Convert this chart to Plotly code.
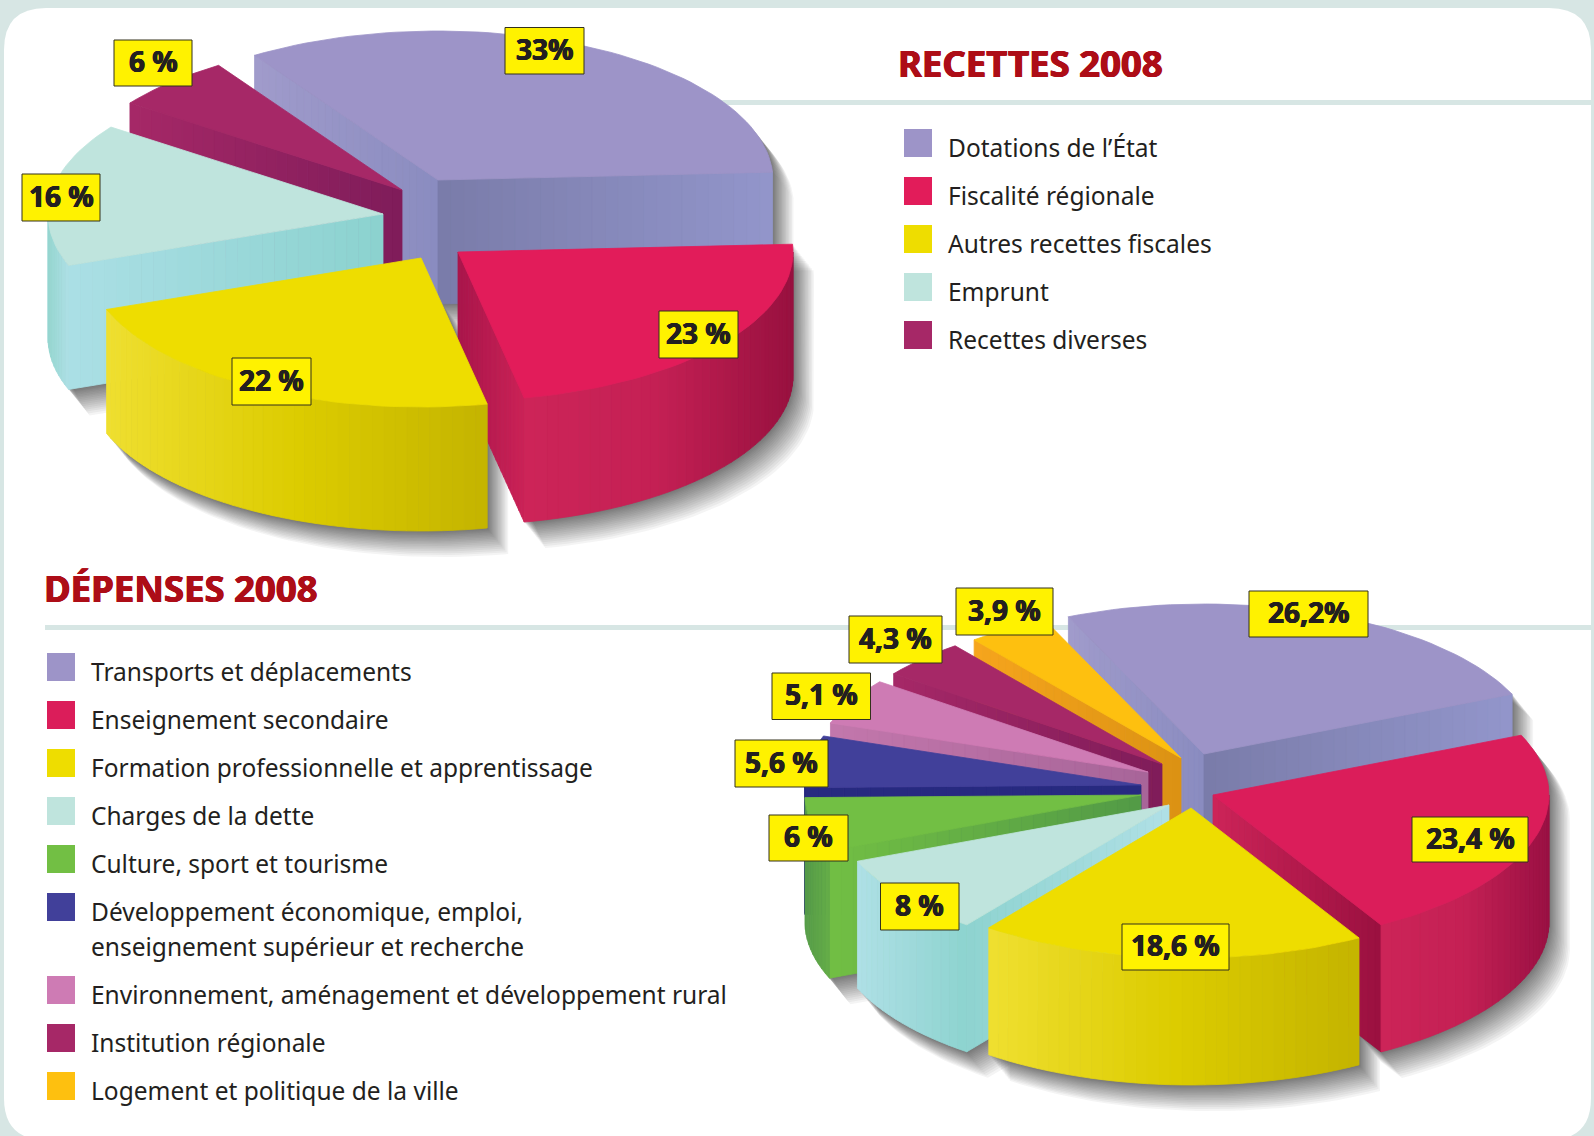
import math
import plotly.graph_objects as go

# ---------- data ----------
recettes_names = ["Dotations de l’État", "Fiscalité régionale", "Autres recettes fiscales", "Emprunt", "Recettes diverses"]
recettes_values = [33, 23, 22, 16, 6]
recettes_texts = ["33%", "23 %", "22 %", "16 %", "6 %"]

depenses_names = ["Transports et déplacements", "Enseignement secondaire",
                  "Formation professionnelle et apprentissage", "Charges de la dette",
                  "Culture, sport et tourisme",
                  "Développement économique, emploi,<br>enseignement supérieur et recherche",
                  "Environnement, aménagement et développement rural",
                  "Institution régionale", "Logement et politique de la ville"]
depenses_values = [26.2, 23.4, 18.6, 8, 6, 5.6, 5.1, 4.3, 3.9]
depenses_texts = ["26,2%", "23,4 %", "18,6 %", "8 %", "6 %", "5,6 %", "5,1 %", "4,3 %", "3,9 %"]

# ---------- styles (top colour, cut-wall gradient at the end / start, outer-wall gradient) ----------
PURPLE = dict(top="#9d94c8", end=["#7a7ba9", "#9296cb"], start=["#a09bcb", "#8a8cc0"], outer=["#7a7ba9", "#9296cb"])
RED_A = dict(top="#e21c5a", end=["#a9154a", "#cb2257"], start=["#a9154a", "#cb2257"], outer=["#cd2458", "#c42054", "#98103f"])
RED_B = dict(top="#db1d5a", end=["#cd2458", "#9a1040"], start=["#cd2458", "#9a1040"], outer=["#cd2458", "#c42054", "#9a1043"])
YELLOW = dict(top="#eedd00", end=["#efdf30", "#c4b400"], start=["#efdf30", "#c4b400"], outer=["#efdf30", "#dccc00", "#c4b400"])
TEAL_A = dict(top="#bfe4dd", end=["#abdfe5", "#8bd2cf"], start=["#abdfe5", "#8bd2cf"], outer=["#96d6d0", "#aee0e6"])
TEAL_B = dict(top="#bfe4dd", end=["#abdfe5", "#8bd2cf"], start=["#8ed3d0", "#b0e0e6"], outer=["#afe0e6", "#8dd3cf"])
GREEN = dict(top="#72bf44", end=["#72bf44", "#529a46"], start=["#72bf44", "#529a46"], outer=["#569c48", "#65ad48"])
BLUE = dict(top="#41409a", end=["#272a80", "#272a80"], start=["#272a80", "#272a80"], outer=["#272a80", "#272a80"])
PINK = dict(top="#ce7bb4", end=["#c377ac", "#a76599"], start=["#c377ac", "#a76599"], outer=["#c377ac", "#c377ac"])
MAGENTA = dict(top="#a62867", end=["#a62867", "#7f1c5a"], start=["#a62867", "#7f1c5a"], outer=["#a62867", "#a62867"])
ORANGE = dict(top="#fec00f", end=["#f6a51d", "#dc9213"], start=["#f6a51d", "#dc9213"], outer=["#f6a51d", "#f6a51d"])

recettes_styles = [PURPLE, RED_A, YELLOW, TEAL_A, MAGENTA]
depenses_styles = [PURPLE, RED_B, YELLOW, TEAL_B, GREEN, BLUE, PINK, MAGENTA, ORANGE]

# ---------- layout of the two pies ----------
recettes_layout = dict(start=122.7, rx=335, ry=149, depth=124,
                       nudge=[0.5, -0.9, 0.3, -1.7, 0, 0.5],
                       apex=[(438, 180), (458, 252), (421, 258), (383, 214), (402, 190)],
                       order=[0, 4, 3, 1, 2])
depenses_layout = dict(start=117, rx=336, ry=150, depth=127,
                       nudge=[-3.2, 0.82, 1.56, 1.52, -0.68, -0.08, 0, 0.44, 0.92, 0.76],
                       apex=[(1204, 754), (1213, 795), (1191, 808), (1169, 805), (1141, 795),
                             (1141, 785), (1148, 772), (1162, 764), (1181, 758)],
                       order=[0, 8, 7, 6, 5, 4, 3, 1, 2])
recettes_boxes = [(505, 584, 27.5, 74), (659, 738, 311, 358), (232, 311, 358, 405), (22, 100, 174, 221), (114, 192, 40, 86)]
depenses_boxes = [(1249, 1368, 591, 637), (1412, 1528, 817, 862), (1122, 1229, 924, 970), (880.5, 959, 883, 930),
                  (769, 848, 815, 861), (735, 828, 740, 787), (772, 870.5, 673, 719.5), (849, 942, 616, 663), (956, 1053, 588, 635)]

W, H = 1594, 1136
BG = "#d7e6e4"
LEG_FONT = "Noto Sans"
INK = "#231f20"
TITLE_RED = "#ad0d17"
LEGEND_TOPS_A = [129, 177, 225, 273, 321]
LEGEND_TOPS_B = [653, 701, 749, 797, 845, 893, 976, 1024, 1072]
HEAVY = "0.6px 0 0 {c}, -0.6px 0 0 {c}, 0 0.4px 0 {c}"


def mix(stops, t):
    t = min(1, max(0, t))
    f = t * (len(stops) - 1)
    i = min(int(f), len(stops) - 2)
    u = f - i
    a, b = stops[i], stops[i + 1]
    ca = [int(a[k:k + 2], 16) for k in (1, 3, 5)]
    cb = [int(b[k:k + 2], 16) for k in (1, 3, 5)]
    return "rgb(%d,%d,%d)" % tuple(round(x + (y - x) * u) for x, y in zip(ca, cb))


def poly(fig, pts, color, name=None):
    xs = [p[0] for p in pts] + [pts[0][0]]
    ys = [p[1] for p in pts] + [pts[0][1]]
    fig.add_trace(go.Scatter(x=xs, y=ys, mode="lines", fill="toself", fillcolor=color,
                             line=dict(color=color, width=0.8), hoverinfo="skip" if name is None else "name",
                             name=name or "", showlegend=False))


def hull(points):
    pts = sorted(set(points))
    def half(seq):
        out = []
        for p in seq:
            while len(out) >= 2 and (out[-1][0] - out[-2][0]) * (p[1] - out[-2][1]) - (out[-1][1] - out[-2][1]) * (p[0] - out[-2][0]) <= 0:
                out.pop()
            out.append(p)
        return out[:-1]
    return half(pts) + half(pts[::-1])


def draw_pie(fig, names, values, styles, layout):
    rx, ry, depth = layout["rx"], layout["ry"], layout["depth"]
    bounds = [layout["start"]]
    for v in values:
        bounds.append(bounds[-1] - v * 3.6)
    bounds = [b + n for b, n in zip(bounds, layout["nudge"])]

    def rim(cx, cy, a):
        r = math.radians(a)
        return (cx + rx * math.cos(r), cy - ry * math.sin(r))

    wedges = []
    for i, (cx, cy) in enumerate(layout["apex"]):
        a0, a1 = bounds[i], bounds[i + 1]
        n = max(4, int((a0 - a1) / 2))
        arc = [rim(cx, cy, a0 + (a1 - a0) * k / n) for k in range(n + 1)]
        wedges.append([(cx, cy)] + arc)

    # soft shadow towards the lower right: stacked translucent silhouettes
    layers = 18
    for s in range(layers, 0, -1):
        f = (s / layers) ** 1.35
        xs, ys = [], []
        for w in wedges:
            outline = hull([(round(x, 1), round(y, 1)) for x, y in w] + [(round(x, 1), round(y + depth, 1)) for x, y in w])
            for x, y in outline + outline[:1]:
                xs.append(x + 21 * f)
                ys.append(y + 26 * f)
            xs.append(None)
            ys.append(None)
        fig.add_trace(go.Scatter(x=xs, y=ys, mode="lines", fill="toself", fillcolor="rgba(35,35,35,0.05)",
                                 line=dict(width=0), hoverinfo="skip", showlegend=False))

    for i in layout["order"]:
        cx, cy = layout["apex"][i]
        a0, a1 = bounds[i], bounds[i + 1]
        st = styles[i]
        # straight cut walls
        for ang, key, visible in ((a0, "start", math.cos(math.radians(a0)) < 0),
                                  (a1, "end", math.cos(math.radians(a1)) > 0)):
            if not visible:
                continue
            ex, ey = rim(cx, cy, ang)
            strips = 26
            xmin, xmax = min(cx, ex), max(cx, ex)
            for k in range(strips):
                p = (cx + (ex - cx) * k / strips, cy + (ey - cy) * k / strips)
                q = (cx + (ex - cx) * (k + 1) / strips, cy + (ey - cy) * (k + 1) / strips)
                t = ((p[0] + q[0]) / 2 - xmin) / max(1, xmax - xmin)
                poly(fig, [p, q, (q[0], q[1] + depth), (p[0], p[1] + depth)], mix(st[key], t))
        # curved outer wall, front half only
        hi, lo = min(a0, 0), max(a1, -180)
        if hi > lo:
            n = max(3, math.ceil((hi - lo) / 2))
            angs = [hi + (lo - hi) * k / n for k in range(n + 1)]
            pts = [rim(cx, cy, a) for a in angs]
            xmin, xmax = min(p[0] for p in pts), max(p[0] for p in pts)
            for k in range(n):
                p, q = pts[k], pts[k + 1]
                t = ((p[0] + q[0]) / 2 - xmin) / max(1, xmax - xmin)
                poly(fig, [p, q, (q[0], q[1] + depth), (p[0], p[1] + depth)], mix(st["outer"], t))
        # top face
        poly(fig, wedges[i], st["top"], name="%s : %s" % (names[i].replace("<br>", " "), values[i]))


box_shapes = []


def add_boxes(fig, texts, boxes):
    for text, (x0, x1, y0, y1) in zip(texts, boxes):
        box_shapes.append(dict(type="rect", x0=x0, x1=x1, y0=y0, y1=y1, xref="x", yref="y", layer="above",
                               fillcolor="#fff200", line=dict(color="#33311c", width=1)))
        fig.add_annotation(x=(x0 + x1) / 2, y=(y0 + y1) / 2 - 2, xref="x", yref="y", text="<b>%s</b>" % text,
                           showarrow=False, xanchor="center", yanchor="middle",
                           font=dict(family="Noto Sans", size=28, color=INK, weight=900, shadow=HEAVY.format(c=INK)))


def add_legend(fig, names, styles, x, tops):
    for name, st, top in zip(names, styles, tops):
        fig.add_trace(go.Scatter(x=[x + 14], y=[top + 14], mode="markers", hoverinfo="skip", showlegend=False,
                                 marker=dict(symbol="square", size=28, color=st["top"], line=dict(width=0))))
        for j, line in enumerate(name.split("<br>")):
            fig.add_annotation(x=x + 42, y=top + 34.5 * j, xref="x", yref="y", text=line, showarrow=False,
                               xanchor="left", yanchor="top", align="left",
                               font=dict(family=LEG_FONT, size=24.5, color=INK))


fig = go.Figure()

r = 42
L, T, R, B = 4, 8, 1591, 1140
panel = (f"M {L + r},{T} L {R - r},{T} Q {R},{T} {R},{T + r} L {R},{B - r} Q {R},{B} {R - r},{B} "
         f"L {L + r},{B} Q {L},{B} {L},{B - r} L {L},{T + r} Q {L},{T} {L + r},{T} Z")
shapes = [
    dict(type="path", path=panel, fillcolor="white", line=dict(width=0), layer="below", xref="x", yref="y"),
    dict(type="rect", x0=700, x1=R, y0=100, y1=105, fillcolor=BG, line=dict(width=0), layer="below", xref="x", yref="y"),
    dict(type="rect", x0=45, x1=R, y0=625, y1=630, fillcolor=BG, line=dict(width=0), layer="below", xref="x", yref="y"),
]

draw_pie(fig, recettes_names, recettes_values, recettes_styles, recettes_layout)
draw_pie(fig, depenses_names, depenses_values, depenses_styles, depenses_layout)
add_legend(fig, recettes_names, recettes_styles, 904, LEGEND_TOPS_A)
add_legend(fig, depenses_names, depenses_styles, 47, LEGEND_TOPS_B)
add_boxes(fig, recettes_texts, recettes_boxes)
add_boxes(fig, depenses_texts, depenses_boxes)

for text, x, y in (("RECETTES 2008", 896, 63), ("DÉPENSES 2008", 42, 588)):
    fig.add_annotation(x=x, y=y, xref="x", yref="y", text="<b>%s</b>" % text, showarrow=False, xanchor="left",
                       yanchor="middle", font=dict(family="Noto Sans", size=36.5, color=TITLE_RED, weight=800,
                                                   shadow=HEAVY.format(c=TITLE_RED)))

fig.update_layout(width=W, height=H, margin=dict(l=0, r=0, t=0, b=0), paper_bgcolor=BG, plot_bgcolor="rgba(0,0,0,0)",
                  showlegend=False, shapes=shapes + box_shapes,
                  xaxis=dict(range=[0, W], visible=False, fixedrange=True),
                  yaxis=dict(range=[H, 0], visible=False, fixedrange=True))
fig.write_html("out.html", post_script="document.body.style.margin='0';", config=dict(displayModeBar=False))
